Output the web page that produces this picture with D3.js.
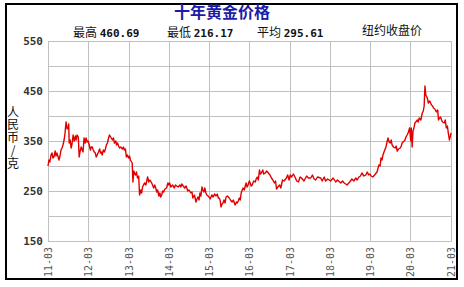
<!DOCTYPE html>
<html><head><meta charset="utf-8">
<script src="https://cdn.jsdelivr.net/npm/d3@7/dist/d3.min.js"></script>
<style>body{margin:0;background:#fff}svg{display:block}</style>
</head><body>
<script>
const title = "十年黄金价格";
const statLabels = ["最高", "最低", "平均"];
const statValues = ["460.69", "216.17", "295.61"];
const sourceLabel = "纽约收盘价";
const yAxisLabel = "人民币/克";
const yTicks = [150, 250, 350, 450, 550];
const yGrid = [150, 200, 250, 300, 350, 400, 450, 500, 550];
const xTickLabels = ["11-03","12-03","13-03","14-03","15-03","16-03","17-03","18-03","19-03","20-03","21-03"];

// [date, price in yuan/gram]
const goldSeries = [
["2011-03-01",300],["2011-03-10",312],["2011-03-18",308],["2011-03-28",322],["2011-04-06",326],["2011-04-15",316],["2011-04-24",318],["2011-05-05",330],["2011-05-12",320],["2011-05-21",326],["2011-06-01",318],["2011-06-09",312],["2011-06-18",320],["2011-06-27",332],["2011-07-06",336],["2011-07-15",342],["2011-07-25",352],["2011-08-03",366],["2011-08-08",380],["2011-08-12",388],["2011-08-22",374],["2011-09-01",378],["2011-09-05",384],["2011-09-09",346],["2011-09-18",352],["2011-09-27",336],["2011-10-05",344],["2011-10-15",362],["2011-10-25",350],["2011-11-05",360],["2011-11-12",352],["2011-11-20",362],["2011-12-01",358],["2011-12-09",318],["2011-12-18",330],["2011-12-27",338],
["2012-01-05",332],["2012-01-13",328],["2012-01-22",356],["2012-02-01",346],["2012-02-10",356],["2012-02-19",348],["2012-02-28",350],["2012-03-09",342],["2012-03-20",332],["2012-03-28",338],["2012-04-06",338],["2012-04-15",332],["2012-04-24",328],["2012-05-03",326],["2012-05-12",318],["2012-05-20",322],["2012-06-01",328],["2012-06-12",334],["2012-06-20",326],["2012-06-27",328],["2012-07-05",322],["2012-07-15",332],["2012-07-25",328],["2012-08-03",334],["2012-08-12",342],["2012-08-21",346],["2012-09-01",356],["2012-09-09",362],["2012-09-20",358],["2012-10-06",352],["2012-10-15",356],["2012-10-24",346],["2012-11-05",350],["2012-11-12",342],["2012-11-21",346],["2012-12-01",340],["2012-12-09",336],["2012-12-20",338],
["2013-01-04",334],["2013-01-14",338],["2013-01-22",332],["2013-02-01",334],["2013-02-09",318],["2013-02-18",322],["2013-03-01",316],["2013-03-10",320],["2013-03-18",312],["2013-04-03",306],["2013-04-10",268],["2013-04-18",290],["2013-04-26",284],["2013-05-04",282],["2013-05-12",288],["2013-05-21",276],["2013-06-01",280],["2013-06-09",242],["2013-06-20",252],["2013-06-28",246],["2013-07-06",258],["2013-07-15",262],["2013-07-24",266],["2013-08-05",262],["2013-08-21",278],["2013-09-01",268],["2013-09-12",272],["2013-09-27",266],["2013-10-05",262],["2013-10-15",256],["2013-10-25",262],["2013-11-05",254],["2013-11-12",248],["2013-11-20",252],["2013-12-01",240],["2013-12-10",246],["2013-12-18",238],["2013-12-27",242],
["2014-01-05",250],["2014-01-13",248],["2014-01-25",254],["2014-02-09",256],["2014-02-21",266],["2014-03-01",262],["2014-03-09",266],["2014-03-20",258],["2014-04-06",262],["2014-04-20",256],["2014-05-01",262],["2014-05-12",260],["2014-05-25",258],["2014-06-09",262],["2014-06-18",258],["2014-06-27",264],["2014-07-10",260],["2014-07-24",256],["2014-08-05",260],["2014-08-21",250],["2014-09-01",252],["2014-09-18",246],["2014-09-28",248],["2014-10-06",236],["2014-10-20",242],["2014-11-03",228],["2014-11-12",234],["2014-11-21",238],["2014-12-01",232],["2014-12-09",246],["2014-12-18",240],["2014-12-27",258],
["2015-01-05",252],["2015-01-13",248],["2015-01-22",256],["2015-02-01",246],["2015-02-09",242],["2015-02-21",240],["2015-03-01",238],["2015-03-12",234],["2015-03-27",242],["2015-04-08",238],["2015-04-20",244],["2015-05-04",240],["2015-05-15",244],["2015-05-25",236],["2015-06-01",236],["2015-06-10",232],["2015-06-18",218],["2015-06-28",224],["2015-07-06",226],["2015-07-15",232],["2015-07-25",226],["2015-08-03",238],["2015-08-15",240],["2015-09-01",236],["2015-09-12",232],["2015-09-27",228],["2015-10-08",232],["2015-10-24",222],["2015-11-05",228],["2015-11-12",226],["2015-11-22",230],["2015-12-01",236],["2015-12-10",232],["2015-12-18",246],
["2016-01-04",256],["2016-01-15",252],["2016-02-01",266],["2016-02-10",258],["2016-02-19",262],["2016-03-01",270],["2016-03-09",266],["2016-03-18",260],["2016-03-27",262],["2016-04-10",270],["2016-04-24",268],["2016-05-02",274],["2016-05-12",278],["2016-05-22",272],["2016-06-01",292],["2016-06-10",284],["2016-06-18",286],["2016-07-01",292],["2016-07-10",284],["2016-07-24",286],["2016-08-05",290],["2016-08-21",286],["2016-09-05",282],["2016-09-18",276],["2016-10-01",272],["2016-10-15",266],["2016-10-25",270],["2016-11-03",254],["2016-11-15",258],["2016-12-01",262],["2016-12-12",256],["2016-12-27",272],
["2017-01-10",270],["2017-02-01",276],["2017-02-12",282],["2017-02-25",272],["2017-03-08",282],["2017-03-20",278],["2017-04-05",284],["2017-04-24",276],["2017-05-05",270],["2017-05-21",268],["2017-06-05",278],["2017-06-18",276],["2017-07-10",270],["2017-08-03",280],["2017-08-20",276],["2017-09-09",276],["2017-09-25",282],["2017-10-10",274],["2017-10-24",272],["2017-11-10",278],["2017-12-09",276],["2017-12-22",270],
["2018-01-10",278],["2018-01-22",270],["2018-02-10",274],["2018-03-09",270],["2018-04-01",276],["2018-04-24",268],["2018-05-10",272],["2018-06-09",266],["2018-06-25",270],["2018-07-10",266],["2018-07-24",264],["2018-08-05",262],["2018-08-21",266],["2018-09-05",270],["2018-09-18",274],["2018-10-05",270],["2018-10-24",276],["2018-11-05",272],["2018-11-21",278],["2018-12-05",280],["2018-12-18",286],
["2019-01-05",280],["2019-01-22",282],["2019-02-05",288],["2019-02-18",282],["2019-03-01",284],["2019-03-12",280],["2019-03-27",278],["2019-04-12",282],["2019-05-04",288],["2019-05-21",302],["2019-06-01",300],["2019-06-09",316],["2019-06-18",312],["2019-06-27",322],["2019-07-10",330],["2019-07-24",338],["2019-08-05",350],["2019-08-12",356],["2019-08-22",348],["2019-09-01",346],["2019-09-10",352],["2019-09-18",342],["2019-10-01",338],["2019-10-15",336],["2019-10-25",340],["2019-11-03",330],["2019-11-15",334],["2019-12-01",336],["2019-12-10",340],["2019-12-18",346],
["2020-01-05",350],["2020-01-13",352],["2020-01-22",358],["2020-02-01",362],["2020-02-10",366],["2020-02-24",376],["2020-03-05",350],["2020-03-10",376],["2020-03-18",338],["2020-03-26",370],["2020-04-05",378],["2020-04-12",386],["2020-04-20",388],["2020-05-04",392],["2020-05-12",388],["2020-05-21",396],["2020-06-05",392],["2020-06-18",406],["2020-06-27",410],["2020-07-05",420],["2020-07-12",460],["2020-07-20",442],["2020-08-03",436],["2020-08-12",426],["2020-08-25",430],["2020-09-09",422],["2020-09-20",420],["2020-09-27",416],["2020-10-10",414],["2020-10-24",408],["2020-11-05",412],["2020-11-12",392],["2020-11-22",396],["2020-12-01",398],["2020-12-10",392],["2020-12-18",388],
["2021-01-04",386],["2021-01-12",392],["2021-01-22",376],["2021-02-01",380],["2021-02-09",366],["2021-02-19",352],["2021-02-28",360],["2021-03-06",366]
];

const W = 464, H = 287;
const svg = d3.select("body").append("svg").attr("width", W).attr("height", H);
const parse = d3.timeParse("%Y-%m-%d");
const data = goldSeries.map(d => ({date: parse(d[0]), v: d[1]})).sort((a, b) => a.date - b.date);
const tickDates = xTickLabels.map(s => parse("20" + s.slice(0,2) + "-" + s.slice(3) + "-01"));

const x = d3.scaleTime().domain([tickDates[0], tickDates[tickDates.length-1]]).range([48, 450.5]);
const y = d3.scaleLinear().domain([150, 550]).range([241, 41]);
const px = v => Math.round(v) + 0.5;

// outer border
svg.append("rect").attr("x", 6).attr("y", 4).attr("width", 451).attr("height", 275)
  .attr("fill", "#fff").attr("stroke", "#000").attr("stroke-width", 2);

// grid
const grid = svg.append("g").attr("stroke", "#c0c0c0").attr("stroke-width", 1);
grid.selectAll(".h").data(yGrid).join("line")
  .attr("x1", x.range()[0]).attr("x2", px(x.range()[1]))
  .attr("y1", d => px(y(d))).attr("y2", d => px(y(d)));
grid.selectAll(".v").data(tickDates).join("line")
  .attr("x1", d => px(x(d))).attr("x2", d => px(x(d)))
  .attr("y1", y.range()[1]).attr("y2", px(y.range()[0]));

// y tick labels
svg.append("g").selectAll("text").data(yTicks).join("text")
  .attr("x", 43).attr("y", d => y(d) + 4)
  .attr("text-anchor", "end")
  .attr("font-family", "DejaVu Sans Mono").attr("font-weight", "bold").attr("font-size", 11)
  .attr("fill", "#333").text(d => d);

// x tick labels
svg.append("g").selectAll("text").data(tickDates).join("text")
  .attr("transform", (d) => `translate(${x(d) + 4},${247}) rotate(-90)`)
  .attr("text-anchor", "end")
  .attr("font-family", "DejaVu Sans Mono").attr("font-size", 10)
  .attr("fill", "#555").text((d, i) => xTickLabels[i]);

// line
const line = d3.line().x(d => x(d.date)).y(d => y(d.v));
svg.append("path").datum(data).attr("d", line)
  .attr("fill", "none").attr("stroke", "#e00000").attr("stroke-width", 1.4)
  .attr("stroke-linejoin", "round");

// title
svg.append("text").attr("x", 222).attr("y", 18).attr("text-anchor", "middle")
  .attr("font-family", "Noto Sans CJK SC").attr("font-weight", "bold").attr("font-size", 16)
  .attr("fill", "#1c1ca8").text(title);

// stats
const statX = [73, 167, 257];
statLabels.forEach((lab, i) => {
  const t = svg.append("text").attr("x", statX[i]).attr("y", 36.7).attr("fill", "#111");
  t.append("tspan").attr("font-family", "Noto Sans CJK SC").attr("font-size", 12).text(lab + " ");
  t.append("tspan").attr("font-family", "DejaVu Sans Mono").attr("font-weight", "bold").attr("font-size", 11).text(statValues[i]);
});
svg.append("text").attr("x", 362).attr("y", 35)
  .attr("font-family", "Noto Sans CJK SC").attr("font-size", 12).attr("fill", "#111").text(sourceLabel);

// y axis label (vertical)
svg.append("text").attr("x", 13).attr("y", 106)
  .style("writing-mode", "vertical-rl").style("text-orientation", "upright")
  .attr("letter-spacing", 0.8)
  .attr("font-family", "Noto Sans CJK SC").attr("font-size", 12).attr("fill", "#111")
  .text(yAxisLabel);
</script>
</body></html>
